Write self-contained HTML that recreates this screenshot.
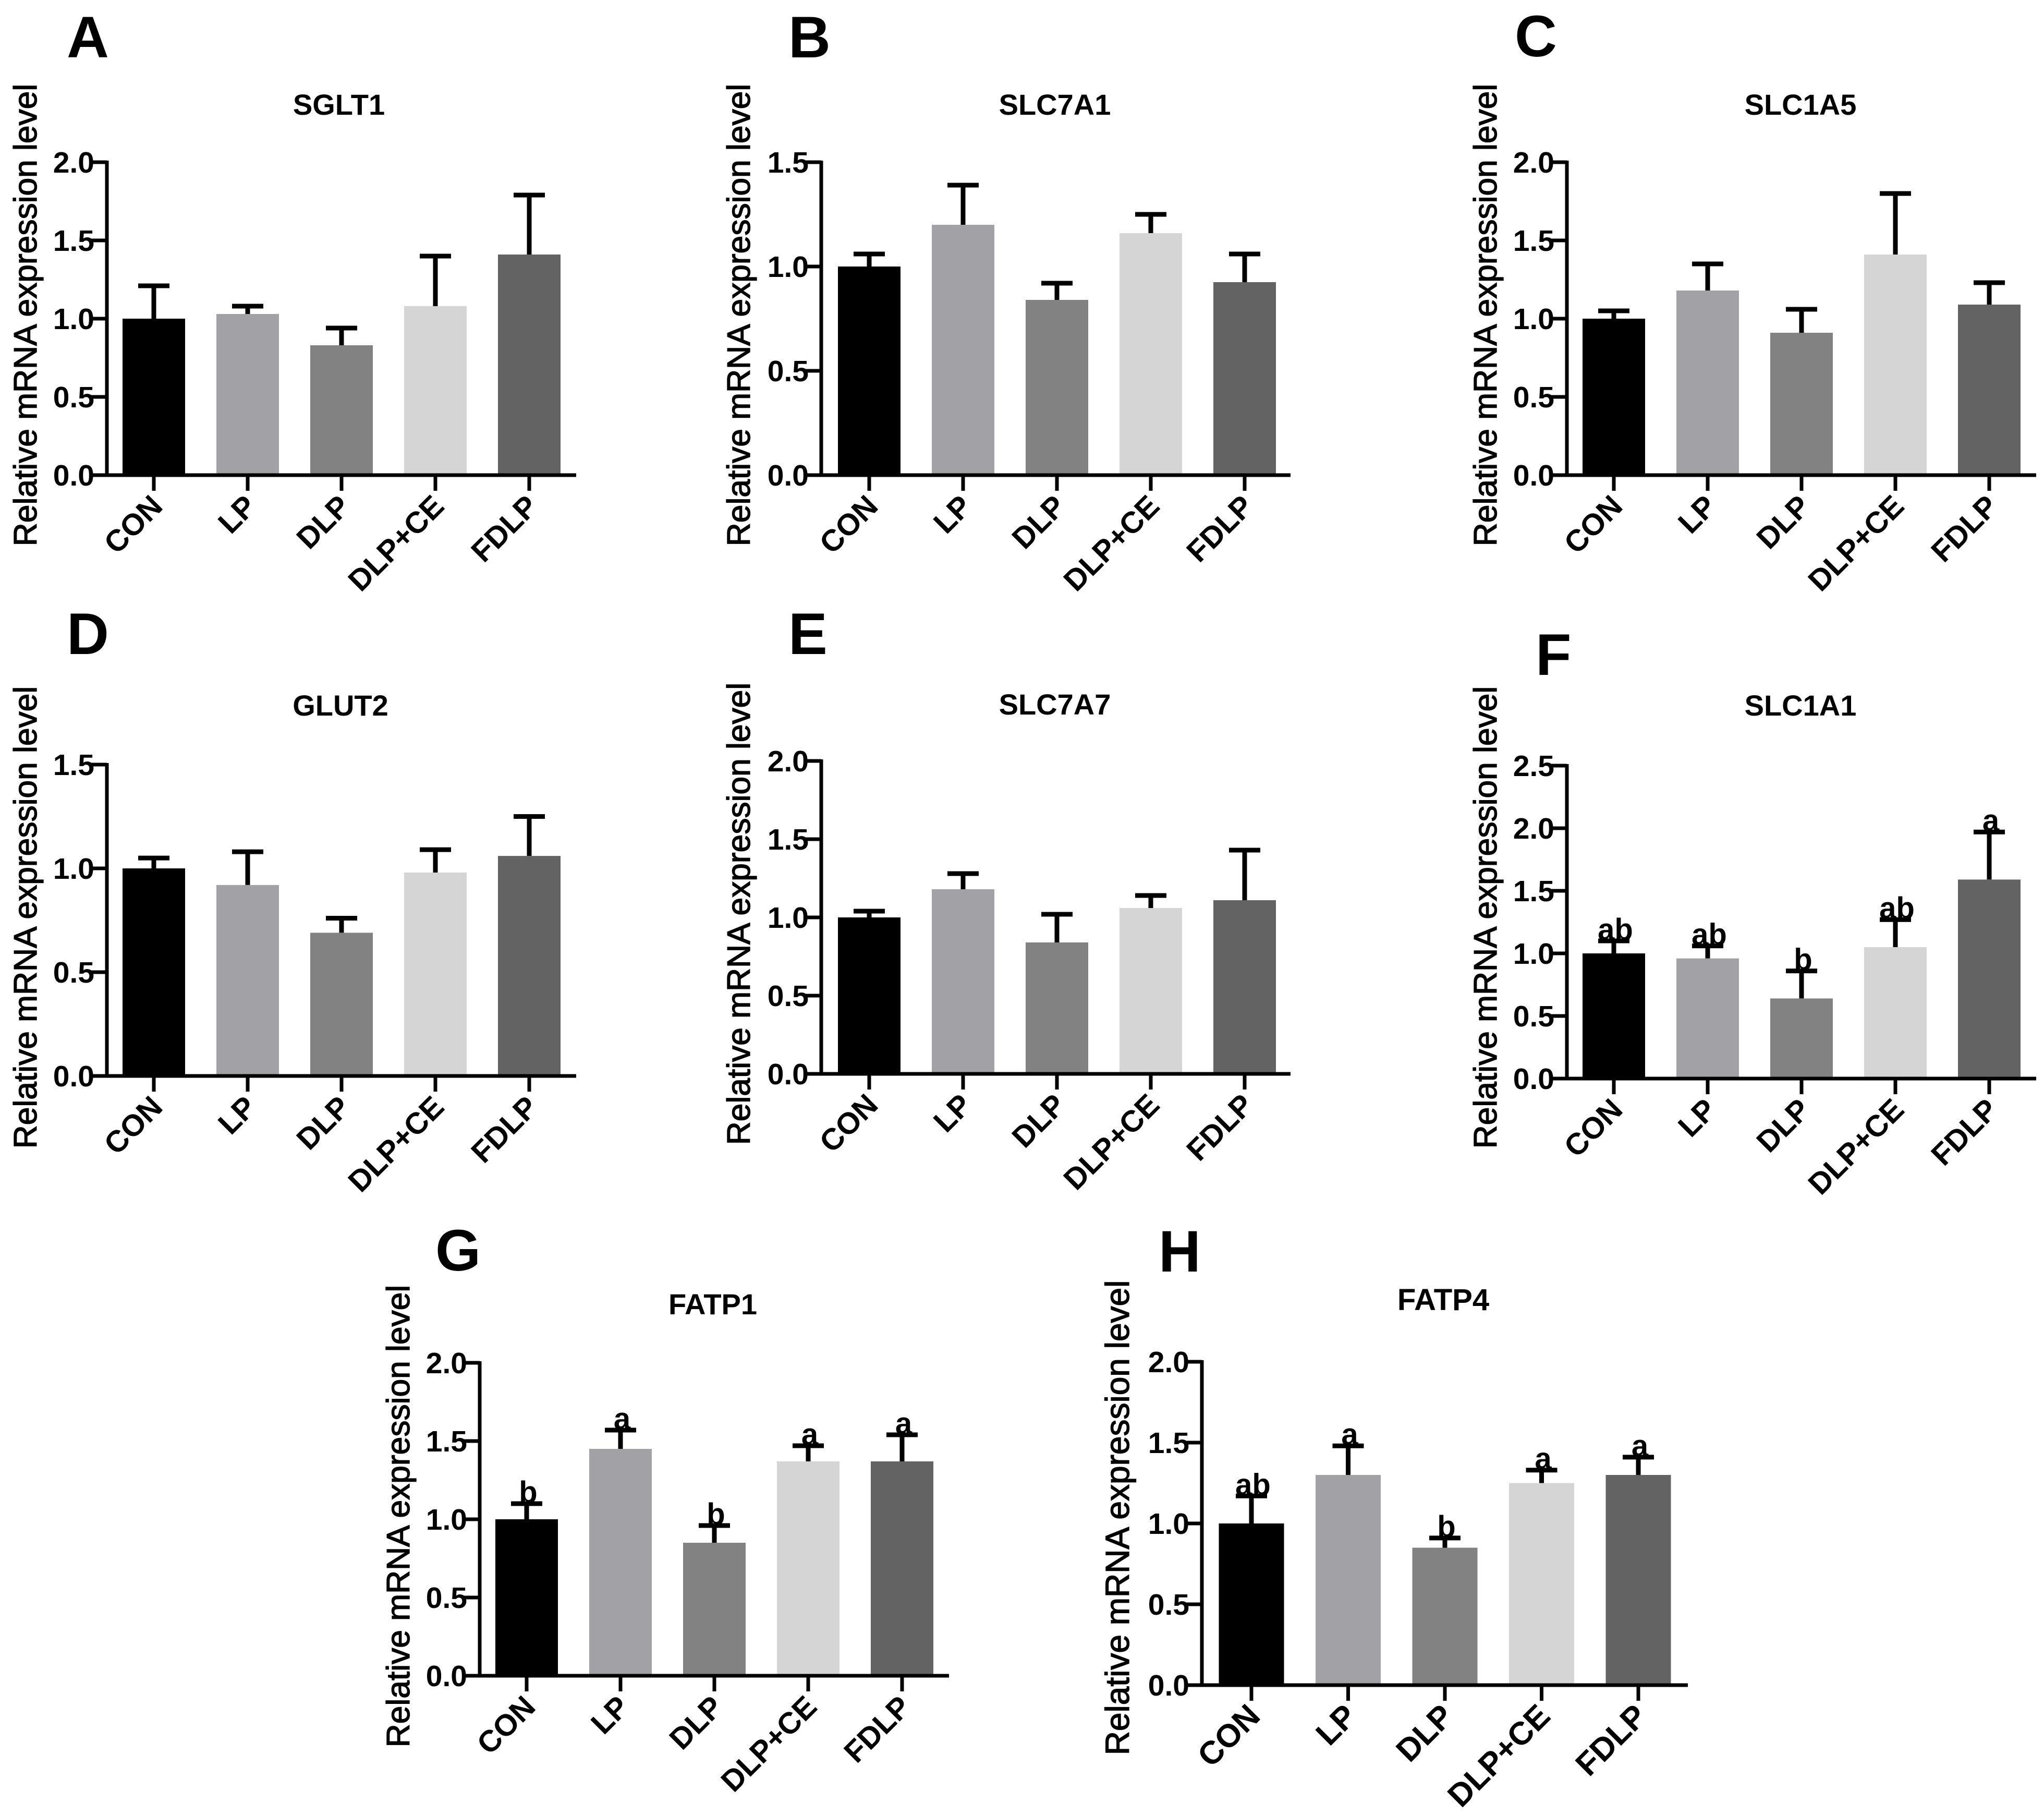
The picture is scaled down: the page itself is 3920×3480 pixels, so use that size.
<!DOCTYPE html>
<html>
<head>
<meta charset="utf-8">
<title>Relative mRNA expression panels</title>
<style>
html,body{margin:0;padding:0;background:#fff;}
svg{display:block;}
text{font-family:"Liberation Sans",sans-serif;fill:#000;}
.b{font-weight:bold;}
</style>
</head>
<body>
<svg id="figure" xmlns="http://www.w3.org/2000/svg" width="3920" height="3480" viewBox="0 0 3920 3480"></svg>
<script>
const categories = ["CON", "LP", "DLP", "DLP+CE", "FDLP"];
const barColors = ["#000000", "#a2a1a6", "#828282", "#d5d5d5", "#636363"];

const ticks2 = ["0.0", "0.5", "1.0", "1.5", "2.0"];
const ticks15 = ["0.0", "0.5", "1.0", "1.5"];
const ticks25 = ["0.0", "0.5", "1.0", "1.5", "2.0", "2.5"];

const meansA = [1.0, 1.03, 0.83, 1.08, 1.41];
const upperA = [1.21, 1.08, 0.94, 1.40, 1.79];
const meansB = [1.0, 1.2, 0.84, 1.16, 0.925];
const upperB = [1.06, 1.39, 0.92, 1.25, 1.06];
const meansC = [1.0, 1.18, 0.91, 1.41, 1.09];
const upperC = [1.05, 1.35, 1.06, 1.80, 1.23];
const meansD = [1.0, 0.92, 0.69, 0.98, 1.06];
const upperD = [1.05, 1.08, 0.76, 1.09, 1.25];
const meansE = [1.0, 1.18, 0.84, 1.06, 1.11];
const upperE = [1.04, 1.28, 1.02, 1.14, 1.43];
const meansF = [1.0, 0.96, 0.64, 1.05, 1.59];
const upperF = [1.10, 1.06, 0.86, 1.27, 1.97];
const meansG = [1.0, 1.45, 0.85, 1.37, 1.37];
const upperG = [1.10, 1.57, 0.96, 1.47, 1.54];
const meansH = [1.0, 1.3, 0.85, 1.25, 1.3];
const upperH = [1.17, 1.48, 0.91, 1.33, 1.41];

const lettersF = ["ab", "ab", "b", "ab", "a"];
const lettersG = ["b", "a", "b", "a", "a"];
const lettersH = ["ab", "a", "b", "a", "a"];

const panels = [
  {id:"A", title:"SGLT1",  means:meansA, upper:upperA, ticks:ticks2,  letters:null},
  {id:"B", title:"SLC7A1", means:meansB, upper:upperB, ticks:ticks15, letters:null},
  {id:"C", title:"SLC1A5", means:meansC, upper:upperC, ticks:ticks2,  letters:null},
  {id:"D", title:"GLUT2",  means:meansD, upper:upperD, ticks:ticks15, letters:null},
  {id:"E", title:"SLC7A7", means:meansE, upper:upperE, ticks:ticks2,  letters:null},
  {id:"F", title:"SLC1A1", means:meansF, upper:upperF, ticks:ticks25, letters:lettersF},
  {id:"G", title:"FATP1",  means:meansG, upper:upperG, ticks:ticks2,  letters:lettersG},
  {id:"H", title:"FATP4",  means:meansH, upper:upperH, ticks:ticks2,  letters:lettersH}
];

/* layout only (pixels) */
const frames = {
  A:{ax:205,  y0:911,  yt:311,  end:1105, first:90,  step:180,   bw:120, lx:128,  ly:110,  tx:650,  ty:220,  yl:50,   ylc:604,  yf:62.3, xf:58, tf:56},
  B:{ax:1575, y0:911,  yt:311,  end:2475, first:92,  step:180,   bw:120, lx:1512, ly:110,  tx:2023, ty:220,  yl:1418, ylc:604,  yf:62.3, xf:58, tf:56},
  C:{ax:3005, y0:911,  yt:311,  end:3905, first:90,  step:180,   bw:120, lx:2905, ly:108,  tx:3453, ty:220,  yl:2850, ylc:604,  yf:62.3, xf:58, tf:56},
  D:{ax:205,  y0:2063, yt:1466, end:1105, first:90,  step:180,   bw:120, lx:128,  ly:1254, tx:653,  ty:1372, yl:50,   ylc:1759, yf:62.3, xf:58, tf:56},
  E:{ax:1575, y0:2059, yt:1459, end:2475, first:92,  step:180,   bw:120, lx:1512, ly:1254, tx:2023, ty:1370, yl:1418, ylc:1752, yf:62.3, xf:58, tf:56},
  F:{ax:3005, y0:2068, yt:1468, end:3905, first:90,  step:180,   bw:120, lx:2945, ly:1294, tx:3453, ty:1372, yl:2850, ylc:1759, yf:62.3, xf:58, tf:56},
  G:{ax:920,  y0:3213, yt:2613, end:1820, first:90,  step:180,   bw:120, lx:835,  ly:2436, tx:1367, ty:2520, yl:765,  ylc:2907, yf:62.3, xf:58, tf:56},
  H:{ax:2305, y0:3231, yt:2611, end:3237, first:95,  step:185.5, bw:125, lx:2222, ly:2438, tx:2768, ty:2512, yl:2145, ylc:2910, yf:64,   xf:62, tf:58}
};

const svgNS = "http://www.w3.org/2000/svg";
const root = document.getElementById("figure");

function make(tag, parent, attrs, content) {
  const el = document.createElementNS(svgNS, tag);
  for (const k in attrs) el.setAttribute(k, attrs[k]);
  if (content !== undefined) el.textContent = content;
  parent.appendChild(el);
  return el;
}

function drawPanel(p) {
  const f = frames[p.id];
  const maxV = parseFloat(p.ticks[p.ticks.length - 1]);
  const yScale = v => f.y0 - (v / maxV) * (f.y0 - f.yt);
  const xScale = i => f.ax + f.first + i * f.step;

  const g = make("g", root, {});
  
  

  const letter = make("text", g, {x:f.lx, y:f.ly, class:"b", "font-size":112}, p.id);
  
  

  const title = make("text", g, {x:f.tx, y:f.ty, class:"b", "font-size":f.tf, "text-anchor":"middle"}, p.title);
  
  

  const yTitle = make("text", g, {
    x:0, y:0, "font-size":f.yf, "text-anchor":"middle",
    stroke:"#000", "stroke-width":1.4,
    transform:"translate(" + (f.yl + 20) + "," + f.ylc + ") rotate(-90)"
  }, "Relative mRNA expression level");
  
  

  p.means.forEach((v, i) => {
    const cx = xScale(i);
    const whisker = make("line", g, {x1:cx, x2:cx, y1:yScale(v), y2:yScale(p.upper[i]), stroke:"#000", "stroke-width":9});
    
    

    const cap = make("line", g, {x1:cx - 30, x2:cx + 30, y1:yScale(p.upper[i]), y2:yScale(p.upper[i]), stroke:"#000", "stroke-width":9});
    
    

    const bar = make("rect", g, {x:cx - f.bw / 2, y:yScale(v), width:f.bw, height:f.y0 - yScale(v), fill:barColors[i]});
    
    

    const tick = make("line", g, {x1:cx, x2:cx, y1:f.y0, y2:f.y0 + 30, stroke:"#000", "stroke-width":7});
    
    

    const label = make("text", g, {
      x:0, y:0, class:"b", "font-size":f.xf, "text-anchor":"end",
      transform:"translate(" + (cx + 20) + "," + (f.y0 + 63) + ") rotate(-45)"
    }, categories[i]);
    
    

    if (p.letters) {
      const sig = make("text", g, {x:cx + 3, y:yScale(p.upper[i]) - 2, class:"b", "font-size":58, "text-anchor":"middle"}, p.letters[i]);
      
      
    }
  });

  p.ticks.forEach(t => {
    const y = yScale(parseFloat(t));
    const tick = make("line", g, {x1:f.ax - 30, x2:f.ax, y1:y, y2:y, stroke:"#000", "stroke-width":7});
    
    

    const label = make("text", g, {x:f.ax - 24, y:y + 20, class:"b", "font-size":57, "text-anchor":"end"}, t);
    
    
  });

  const yAxis = make("line", g, {x1:f.ax, x2:f.ax, y1:f.yt - 3, y2:f.y0 + 3, stroke:"#000", "stroke-width":7});
  
  

  const xAxis = make("line", g, {x1:f.ax - 30, x2:f.end, y1:f.y0, y2:f.y0, stroke:"#000", "stroke-width":7});
  
  
}

panels.forEach(drawPanel);
</script>
</body>
</html>
